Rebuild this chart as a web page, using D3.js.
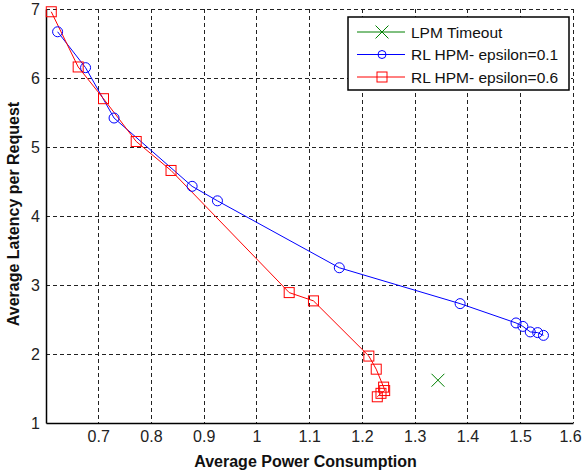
<!DOCTYPE html>
<html>
<head>
<meta charset="utf-8">
<script src="https://cdn.jsdelivr.net/npm/d3@7"></script>
<style>
    body { margin: 0; background: #fff; }
    text { font-family: "Liberation Sans", Arial, sans-serif; }
</style>
</head>
<body>
<div id="chart-div"></div>
<script>
// values
const xTicks = [0.7, 0.8, 0.9, 1.0, 1.1, 1.2, 1.3, 1.4, 1.5, 1.6];
const yTicks = [1, 2, 3, 4, 5, 6, 7];

const lpmTimeout = [
    { power: 1.344, latency: 1.62 }
];

const epsilon01 = [
    { power: 0.623, latency: 6.67 },
    { power: 0.676, latency: 6.15 },
    { power: 0.730, latency: 5.42 },
    { power: 0.878, latency: 4.43 },
    { power: 0.926, latency: 4.22 },
    { power: 1.157, latency: 3.25 },
    { power: 1.386, latency: 2.73 },
    { power: 1.492, latency: 2.45 },
    { power: 1.505, latency: 2.40 },
    { power: 1.519, latency: 2.32 },
    { power: 1.533, latency: 2.31 },
    { power: 1.544, latency: 2.27 }
];

const epsilon06 = [
    { power: 0.611, latency: 6.96 },
    { power: 0.662, latency: 6.16 },
    { power: 0.710, latency: 5.70 },
    { power: 0.772, latency: 5.08 },
    { power: 0.838, latency: 4.66 },
    { power: 1.062, latency: 2.89 },
    { power: 1.108, latency: 2.77 },
    { power: 1.213, latency: 1.97 },
    { power: 1.227, latency: 1.78 },
    { power: 1.241, latency: 1.52 },
    { power: 1.243, latency: 1.47 },
    { power: 1.236, latency: 1.43 },
    { power: 1.229, latency: 1.38 }
];

const seriesNames = ["LPM Timeout", "RL HPM- epsilon=0.1", "RL HPM- epsilon=0.6"];
const seriesColors = ["#008000", "#0000ff", "#ff0000"];

function renderChart() {
    var margin = { top: 9, right: 10, bottom: 52, left: 46 },
        width = 583 - margin.left - margin.right,
        height = 475 - margin.top - margin.bottom;

    var svg = d3.select("#chart-div").append("svg")
        .attr("width", width + margin.left + margin.right)
        .attr("height", height + margin.top + margin.bottom)
        .append("g")
        .attr("transform", "translate(" + margin.left + "," + margin.top + ")");

    var x = d3.scaleLinear().domain([0.601, 1.6]).range([0, width]);
    var y = d3.scaleLinear().domain([1, 7]).range([height, 0]);

    // grid
    const grid = svg.append("g").attr("class", "grid");
    grid.selectAll(".vgrid")
        .data(xTicks)
        .enter().append("line")
        .attr("x1", d => Math.round(x(d)) + 0.5)
        .attr("x2", d => Math.round(x(d)) + 0.5)
        .attr("y1", 0)
        .attr("y2", height)
        .attr("stroke", "#222")
        .attr("stroke-dasharray", "4,3");
    grid.selectAll(".hgrid")
        .data(yTicks.slice(1))
        .enter().append("line")
        .attr("x1", 0)
        .attr("x2", width)
        .attr("y1", d => Math.round(y(d)) + 0.5)
        .attr("y2", d => Math.round(y(d)) + 0.5)
        .attr("stroke", "#222")
        .attr("stroke-dasharray", "4,3");

    // axes
    const xAxis = svg.append("g")
        .attr("transform", "translate(0," + height + ")")
        .call(d3.axisBottom(x).tickValues(xTicks).tickFormat(d3.format("~g")).tickSize(0).tickPadding(8));
    const yAxis = svg.append("g")
        .call(d3.axisLeft(y).tickValues(yTicks).tickFormat(d3.format("d")).tickSize(0).tickPadding(6));
    [xAxis, yAxis].forEach(a => {
        a.select(".domain").attr("stroke", "#000").attr("stroke-width", 1.5);
        a.selectAll("text").style("font-size", "16px").style("fill", "#222")
            .style("font-family", "'Liberation Sans', Arial, sans-serif");
    });
    // keep the last label inside the window
    xAxis.selectAll(".tick text").filter(d => d === 1.6).attr("dx", -3);

    const line = d3.line().x(d => x(d.power)).y(d => y(d.latency));

    // series lines
    [epsilon01, epsilon06].forEach((data, i) => {
        svg.append("path")
            .datum(data)
            .attr("fill", "none")
            .attr("stroke", seriesColors[i + 1])
            .attr("stroke-width", 1)
            .attr("d", line);
    });

    // markers
    svg.append("g").selectAll("circle")
        .data(epsilon01)
        .enter().append("circle")
        .attr("cx", d => x(d.power))
        .attr("cy", d => y(d.latency))
        .attr("r", 5)
        .attr("fill", "none")
        .attr("stroke", seriesColors[1]);

    svg.append("g").selectAll("rect")
        .data(epsilon06)
        .enter().append("rect")
        .attr("x", d => x(d.power) - 5)
        .attr("y", d => y(d.latency) - 5)
        .attr("width", 10)
        .attr("height", 10)
        .attr("fill", "none")
        .attr("stroke", seriesColors[2]);

    const cross = d3.symbol().type(d3.symbolX).size(110);
    svg.append("g").selectAll("path")
        .data(lpmTimeout)
        .enter().append("path")
        .attr("transform", d => `translate(${x(d.power)},${y(d.latency)})`)
        .attr("d", cross)
        .attr("fill", "none")
        .attr("stroke", seriesColors[0]);

    // axis labels
    svg.append("text")
        .style("text-anchor", "middle")
        .attr("x", width / 2 - 4)
        .attr("y", height + 44)
        .style("font-size", "16px")
        .style("font-weight", "bold")
        .style("fill", "#111")
        .text("Average Power Consumption");

    svg.append("text")
        .attr("transform", "rotate(-90)")
        .attr("x", -height / 2 + 2)
        .attr("y", -27)
        .style("text-anchor", "middle")
        .style("font-size", "16px")
        .style("font-weight", "bold")
        .style("fill", "#111")
        .text("Average Latency per Request");

    createLegend(svg, { posX: 302, posY: 8, w: 221, h: 73 });
}

function createLegend(svg, opts) {
    const legend = svg.append("g")
        .attr("transform", `translate(${opts.posX}, ${opts.posY})`);

    legend.append("rect")
        .attr("width", opts.w)
        .attr("height", opts.h)
        .attr("fill", "#fff")
        .attr("stroke", "#000")
        .attr("stroke-width", 1.5);

    seriesNames.forEach((name, i) => {
        const item = legend.append("g")
            .attr("transform", `translate(9, ${15 + i * 22.5})`);
        item.append("line")
            .attr("x1", 0).attr("x2", 48)
            .attr("stroke", seriesColors[i]);
        if (i === 0) {
            item.append("path").attr("transform", "translate(25,0)")
                .attr("d", d3.symbol().type(d3.symbolX).size(110))
                .attr("fill", "none").attr("stroke", seriesColors[i]);
        } else if (i === 1) {
            item.append("circle").attr("cx", 25).attr("r", 4)
                .attr("fill", "none").attr("stroke", seriesColors[i]);
        } else {
            item.append("rect").attr("x", 20).attr("y", -5).attr("width", 10).attr("height", 10)
                .attr("fill", "none").attr("stroke", seriesColors[i]);
        }
        item.append("text")
            .attr("x", 54)
            .attr("y", 5.5)
            .style("font-size", "15.5px")
            .style("fill", "#111")
            .text(name);
    });
}

renderChart();
</script>
</body>
</html>
